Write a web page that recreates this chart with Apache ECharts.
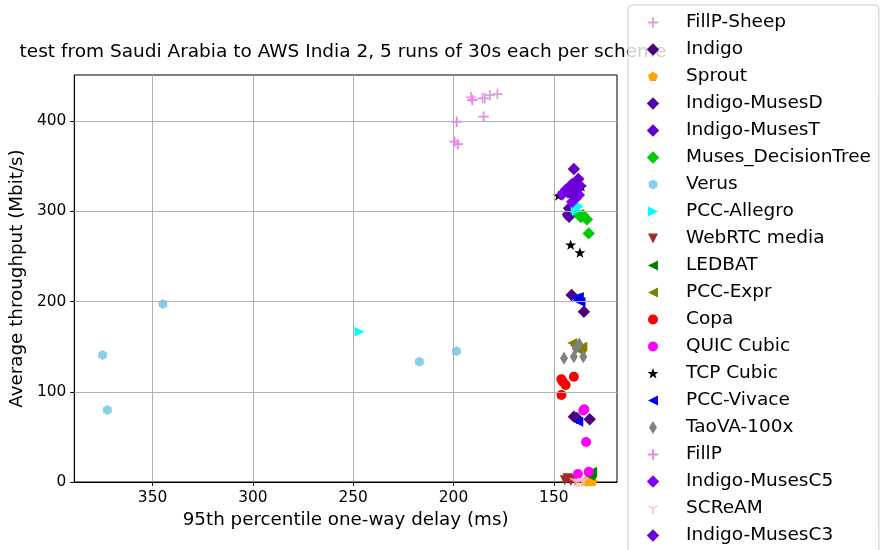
<!DOCTYPE html>
<html><head><meta charset="utf-8">
<script src="https://cdn.jsdelivr.net/npm/echarts@6/dist/echarts.min.js"></script>
<style>html,body{margin:0;padding:0;background:#fff}#c{width:881px;height:550px}</style>
</head><body><div id="c"></div>
<script>
const schemes = ['FillP-Sheep','Indigo','Sprout','Indigo-MusesD','Indigo-MusesT','Muses_DecisionTree','Verus','PCC-Allegro','WebRTC media','LEDBAT','PCC-Expr','Copa','QUIC Cubic','TCP Cubic','PCC-Vivace','TaoVA-100x','FillP','Indigo-MusesC5','SCReAM','Indigo-MusesC3'];
const colors = ['#DDA0DD','#4B0082','#FFA500','#5200A8','#6400C8','#00CC00','#87CEEB','#00FFFF','#A52A2A','#008000','#808000','#FF0000','#FF00FF','#000000','#0000FF','#808080','#EE82EE','#8000FF','#FFB6C1','#6A00D8'];
const markers = ['plus','diamond','pentagon','diamond','diamond','diamond','hexagon','triRight','triDown','triLeft','triLeft','circle','circle','star','triLeft','thinDiamond','plus','diamond','triY','diamond'];

const xTicks = [150,200,250,300,350];
const yTicks = [0,100,200,300,400];

const fillpSheep = [[191.3,426.3],[185.5,425.2],[184.4,425.2],[181.9,428.8],[178.1,429.9]];
const indigo = [[141.1,207.2],[135.0,188.7],[140.0,72.4],[132.1,69.5],[138.5,71.0]];
const sprout = [[131.7,0.8],[133.0,0.5],[132.0,1.5],[134.0,1.0],[130.8,0.6]];
const indigoMusesD = [[142.4,303.3],[142.4,294.0],[141.5,299.0],[143.0,296.5],[140.5,306.0]];
const indigoMusesT = [[140.0,346.8],[137.8,335.7],[144.1,323.5],[141.6,319.9],[139.1,314.3]];
const musesDecisionTree = [[139.0,299.0],[135.5,296.0],[133.5,291.0],[136.5,293.5],[132.6,275.5]];
const verus = [[344.8,197.2],[374.9,140.7],[372.5,79.8],[217.0,133.3],[198.5,144.8]];
const pccAllegro = [[246.9,166.6],[138.3,307.0],[139.1,303.3],[137.5,305.0],[138.5,300.5]];
const webrtcMedia = [[143.2,4.1],[141.5,1.0],[144.5,2.0],[142.0,3.0],[139.5,1.5]];
const ledbat = [[130.9,11.4],[131.5,9.0],[132.0,7.0],[131.0,10.0],[132.5,8.0]];
const pccExpr = [[140.8,154.0],[135.8,150.0],[139.5,151.0],[137.5,146.0],[136.5,148.0]];
const copa = [[146.2,113.8],[144.1,107.5],[140.0,116.7],[146.2,96.4],[145.5,111.0]];
const quicCubic = [[135.3,79.3],[134.8,80.5],[133.9,44.3],[138.0,8.9],[132.6,11.4]];
const tcpCubic = [[147.7,317.2],[136.2,327.2],[137.5,323.0],[141.6,262.6],[137.0,254.0]];
const pccVivace = [[139.1,203.9],[136.7,199.4],[138.0,201.0],[137.5,205.0],[137.8,66.8]];
const taova100x = [[144.9,137.0],[140.0,138.8],[135.3,138.8],[139.1,148.0],[137.3,153.0]];
const fillp = [[190.6,423.3],[185.0,404.8],[198.4,399.2],[199.5,377.1],[197.9,374.5]];
const indigoMusesC5 = [[138.3,325.4],[145.7,318.8],[137.5,318.0],[140.8,310.6],[142.5,326.0]];
const scream = [[137.5,0.8],[136.0,1.2],[138.5,0.5],[135.0,1.0],[139.5,1.0]];
const indigoMusesC3 = [[141.0,330.0],[143.0,321.0],[139.5,322.0],[136.8,328.0],[140.0,316.0]];

const seriesValues = [fillpSheep,indigo,sprout,indigoMusesD,indigoMusesT,musesDecisionTree,verus,pccAllegro,webrtcMedia,ledbat,pccExpr,copa,quicCubic,tcpCubic,pccVivace,taova100x,fillp,indigoMusesC5,scream,indigoMusesC3];

const F = 'M0,0M14,14';
const SYM = {
  plus: 'path://'+F+'M6.1,1.8H7.9V6.1H12.2V7.9H7.9V12.2H6.1V7.9H1.8V6.1H6.1Z',
  diamond: 'path://'+F+'M7,0.8L13.2,7L7,13.2L0.8,7Z',
  thinDiamond: 'path://'+F+'M7,0.5L11,7L7,13.5L3,7Z',
  circle: 'path://'+F+'M12,7A5,5 0 1,1 2,7A5,5 0 1,1 12,7Z',
  hexagon: 'path://'+F+'M7,2L11.33,4.5L11.33,9.5L7,12L2.67,9.5L2.67,4.5Z',
  pentagon: 'path://'+F+'M7,2L12.04,5.66L10.12,11.59L3.88,11.59L1.96,5.66Z',
  triRight: 'path://'+F+'M12,7L2,2L2,12Z',
  triLeft: 'path://'+F+'M2,7L12,2L12,12Z',
  triDown: 'path://'+F+'M2,2L12,2L7,12Z',
  star: 'path://'+F+'M7,1.5L8.35,5.44L12.52,5.51L9.19,8.01L10.41,11.99L7,9.6L3.59,11.99L4.81,8.01L1.48,5.51L5.65,5.44Z',
  triY: 'path://'+F+'M6.3,7H7.7V12.5H6.3ZM7.35,6.39L6.65,7.61L1.89,4.86L2.59,3.64ZM7.35,7.61L6.65,6.39L11.41,3.64L12.11,4.86Z'
};

const FONT = 'DejaVu Sans';
const chart = echarts.init(document.getElementById('c'), null, {renderer:'canvas'});

const series = schemes.map((n,i)=>({
  type:'scatter', name:n, data:seriesValues[i], symbol:SYM[markers[i]], symbolSize:14,
  itemStyle:{color:colors[i], opacity:1}, z:3, animation:false, emphasis:{disabled:true}
}));
series.unshift({
  type:'scatter', data:[], silent:true, z:1, animation:false,
  markLine:{silent:true, animation:false, symbol:['none','none'], label:{show:false},
    lineStyle:{color:'#b0b0b0', width:1, type:'solid'}, emphasis:{disabled:true},
    data: xTicks.map(v=>({xAxis:v})).concat(yTicks.filter(v=>v>0).map(v=>({yAxis:v})))}
});

chart.setOption({
  backgroundColor:'#fff',
  animation:false,
  title:{text:'test from Saudi Arabia to AWS India 2, 5 runs of 30s each per scheme', left:338, top:38, textAlign:'center', z:1,
    textStyle:{fontFamily:FONT, fontSize:18.5, fontWeight:'normal', color:'#000'}},
  legend:{orient:'vertical', left:628, top:5, height:700, padding:[8,8,9,18], itemWidth:14, itemHeight:14, itemGap:8,
    backgroundColor:'rgba(255,255,255,0.8)', borderColor:'#cccccc', borderWidth:1, borderRadius:4, z:10,
    textStyle:{fontFamily:FONT, fontSize:18.5, color:'#000', padding:[0,0,0,21]},
    data: schemes.map((n,i)=>({name:n, icon:SYM[markers[i]]}))},
  grid:{left:69, right:264, top:75, bottom:68, show:true, borderColor:'#000', borderWidth:1, backgroundColor:'transparent'},
  xAxis:{type:'value', inverse:true, min:118.5, max:389,
    name:'95th percentile one-way delay (ms)', nameLocation:'middle', nameGap:29,
    nameTextStyle:{fontFamily:FONT, fontSize:18.3, color:'#000'},
    axisLine:{onZero:false, lineStyle:{color:'#000', width:1}},
    axisTick:{customValues:xTicks, length:4, lineStyle:{color:'#000'}},
    axisLabel:{customValues:xTicks, fontFamily:FONT, fontSize:15.4, color:'#000', margin:8},
    splitLine:{show:false}},
  yAxis:{type:'value', min:0, max:451,
    name:'Average throughput (Mbit/s)', nameLocation:'middle', nameGap:42,
    nameTextStyle:{fontFamily:FONT, fontSize:18.3, color:'#000'},
    axisLine:{onZero:false, lineStyle:{color:'#000', width:1}},
    axisTick:{customValues:yTicks, length:4, lineStyle:{color:'#000'}},
    axisLabel:{customValues:yTicks, fontFamily:FONT, fontSize:15.4, color:'#000', margin:8},
    splitLine:{show:false}},
  series: series
});
</script></body></html>
